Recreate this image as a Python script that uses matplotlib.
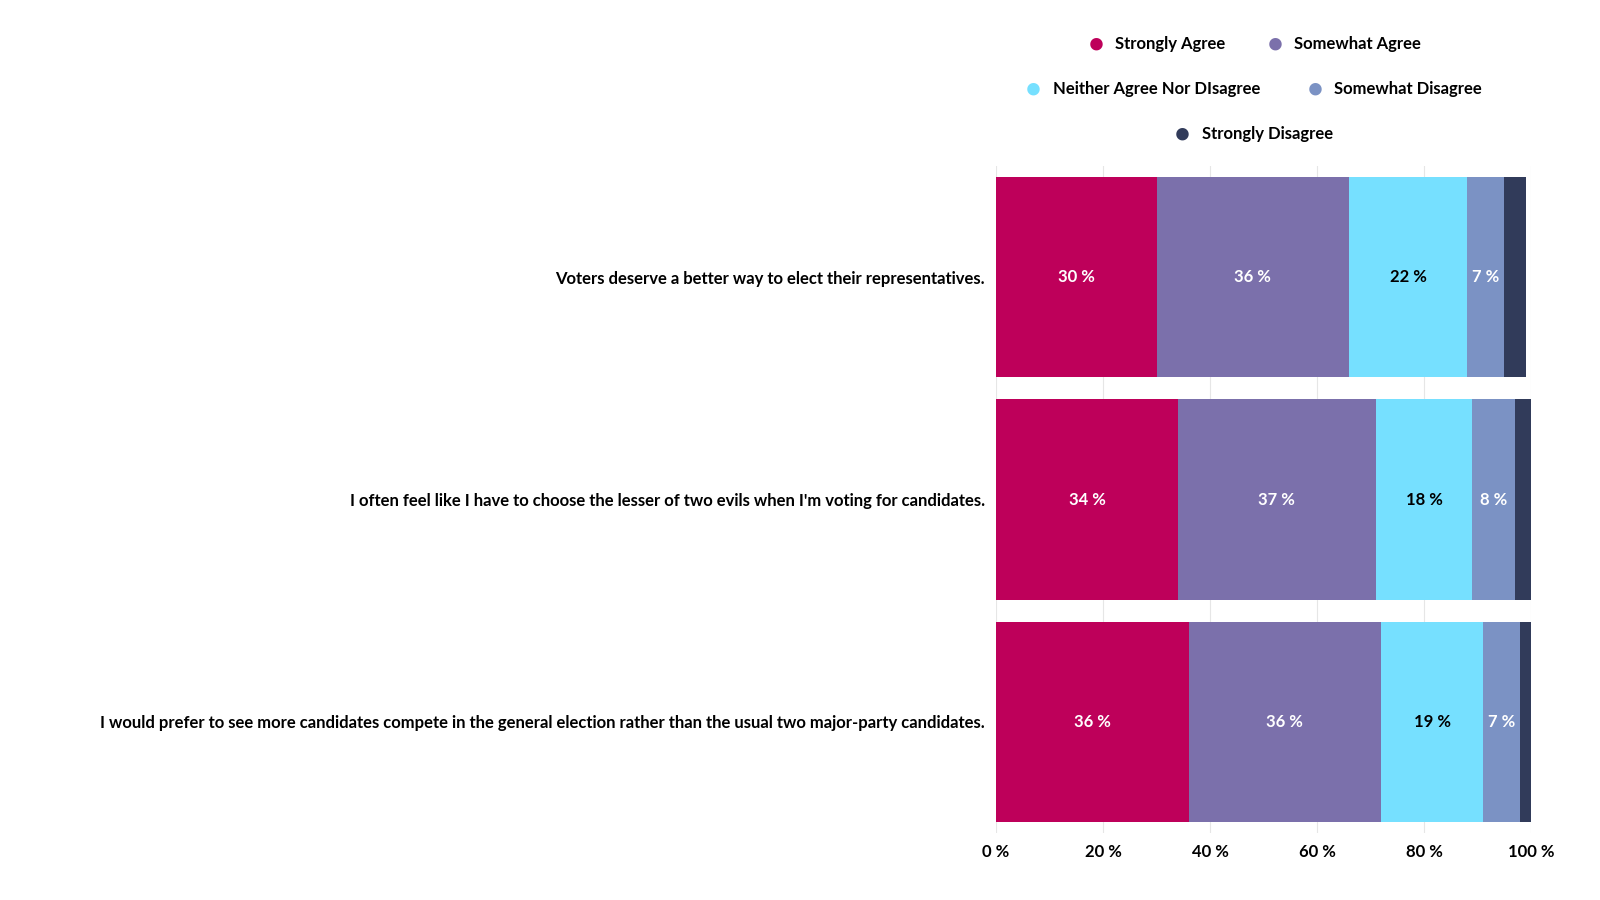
import matplotlib.pyplot as plt
import numpy as np

plt.rcParams['font.family'] = ['Lato', 'DejaVu Sans']
plt.rcParams['font.weight'] = 'bold'

questions = [
    "Voters deserve a better way to elect their representatives.",
    "I often feel like I have to choose the lesser of two evils when I'm voting for candidates.",
    "I would prefer to see more candidates compete in the general election rather than the usual two major-party candidates.",
]
series = ["Strongly Agree", "Somewhat Agree", "Neither Agree Nor DIsagree", "Somewhat Disagree", "Strongly Disagree"]
values = {
    "Strongly Agree": [30, 34, 36],
    "Somewhat Agree": [36, 37, 36],
    "Neither Agree Nor DIsagree": [22, 18, 19],
    "Somewhat Disagree": [7, 8, 7],
    "Strongly Disagree": [4, 3, 2],
}
colors = ["#BE005A", "#7B70AB", "#76E0FF", "#7B92C4", "#313B5A"]
text_colors = ["white", "white", "black", "white", "white"]

fig = plt.figure(figsize=(16, 9), dpi=100)
ax = fig.add_axes([0.6225, 0.0744, 0.3344, 0.7412])

y = np.arange(len(questions))
left = np.zeros(len(questions))
for s, c, tc in zip(series, colors, text_colors):
    v = np.array(values[s], dtype=float)
    ax.barh(y, v, left=left, height=0.9, color=c, zorder=3)
    for yi, (l, w) in enumerate(zip(left, v)):
        if w >= 5:
            ax.text(l + w / 2, yi, f"{int(w)} %", ha='center', va='center',
                    color=tc, fontsize=12, fontweight='bold', zorder=4)
    left += v

ax.set_xlim(0, 100)
ax.set_ylim(len(questions) - 0.5, -0.5)
ax.set_yticks(y)
ax.set_yticklabels(questions, fontsize=12, fontweight='bold')
ax.set_xticks(range(0, 101, 20))
ax.set_xticklabels([f"{t} %" for t in range(0, 101, 20)], fontsize=12, fontweight='bold')
ax.tick_params(length=0, pad=8)
ax.grid(axis='x', color='#e6e6e6', zorder=0)
for sp in ax.spines.values():
    sp.set_visible(False)

# legend: rows of 2, 2, 1 centred
rows = [[0, 1], [2, 3], [4]]
row_y = [0.951, 0.901, 0.851]
centres = {0: [0.685, 0.797], 1: [0.646, 0.822], 2: [0.739]}
for r, idxs in enumerate(rows):
    for k, i in enumerate(idxs):
        x = centres[r][k]
        fig.text(x, row_y[r], "\u25CF", color=colors[i], fontsize=18, ha='center', va='center')
        fig.text(x + 0.012, row_y[r], series[i], fontsize=12, fontweight='bold', ha='left', va='center')

fig.savefig("out.png", dpi=100)
